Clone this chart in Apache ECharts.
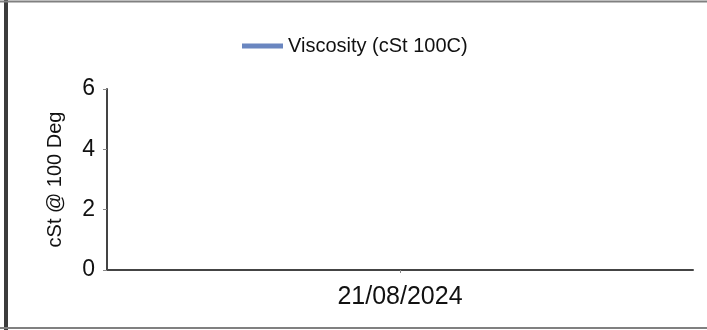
<!DOCTYPE html>
<html>
<head>
<meta charset="utf-8">
<script src="https://cdn.jsdelivr.net/npm/echarts@6/dist/echarts.min.js"></script>
<style>
html,body{margin:0;padding:0;background:#fff;}
#c{width:707px;height:330px;}
</style>
</head>
<body>
<div id="c"></div>
<script>
var categories = ['21/08/2024'];
var viscosity = [null];
var seriesName = 'Viscosity (cSt 100C)';
var yAxisName = 'cSt @ 100 Deg';
var yMin = 0, yMax = 6, yStep = 2;

var chart = echarts.init(document.getElementById('c'), null, {renderer: 'canvas'});
var font = '"Liberation Sans", Arial, sans-serif';
chart.setOption({
  animation: false,
  backgroundColor: '#fff',
  textStyle: {fontFamily: font},
  graphic: [
    {type: 'line', shape: {x1: 6, y1: 0, x2: 6, y2: 330}, style: {stroke: '#3c3c3c', lineWidth: 4}},
    {type: 'line', shape: {x1: 0, y1: 1.5, x2: 707, y2: 1.5}, style: {stroke: '#808080', lineWidth: 2}},
    {type: 'line', shape: {x1: 0, y1: 328, x2: 707, y2: 328}, style: {stroke: '#808080', lineWidth: 2}}
  ],
  legend: {
    data: [{name: seriesName, icon: 'rect'}],
    left: 237,
    top: 31,
    itemWidth: 41,
    itemHeight: 5,
    itemGap: 8,
    textStyle: {fontSize: 20, color: '#111', fontFamily: font}
  },
  grid: {left: 107, right: 14, top: 89, bottom: 60, containLabel: false},
  xAxis: {
    type: 'category',
    data: categories,
    boundaryGap: true,
    axisLine: {lineStyle: {color: '#444', width: 2}},
    axisTick: {show: true, alignWithLabel: true, length: 3, lineStyle: {color: '#888'}},
    axisLabel: {fontSize: 25, color: '#111', margin: 15, fontFamily: font},
    splitLine: {show: false}
  },
  yAxis: {
    type: 'value',
    min: yMin, max: yMax, interval: yStep,
    name: yAxisName,
    nameLocation: 'middle',
    nameRotate: 90,
    nameGap: 42,
    nameTextStyle: {fontSize: 20, color: '#111', fontFamily: font},
    axisLine: {show: true, lineStyle: {color: '#444', width: 2}},
    axisTick: {show: true, length: 4, lineStyle: {color: '#888'}},
    axisLabel: {fontSize: 23, color: '#111', margin: 12, fontFamily: font},
    splitLine: {show: false}
  },
  series: [{
    name: seriesName,
    type: 'line',
    data: viscosity,
    color: '#6a86c0',
    lineStyle: {width: 3},
    symbol: 'none'
  }]
});
</script>
</body>
</html>
